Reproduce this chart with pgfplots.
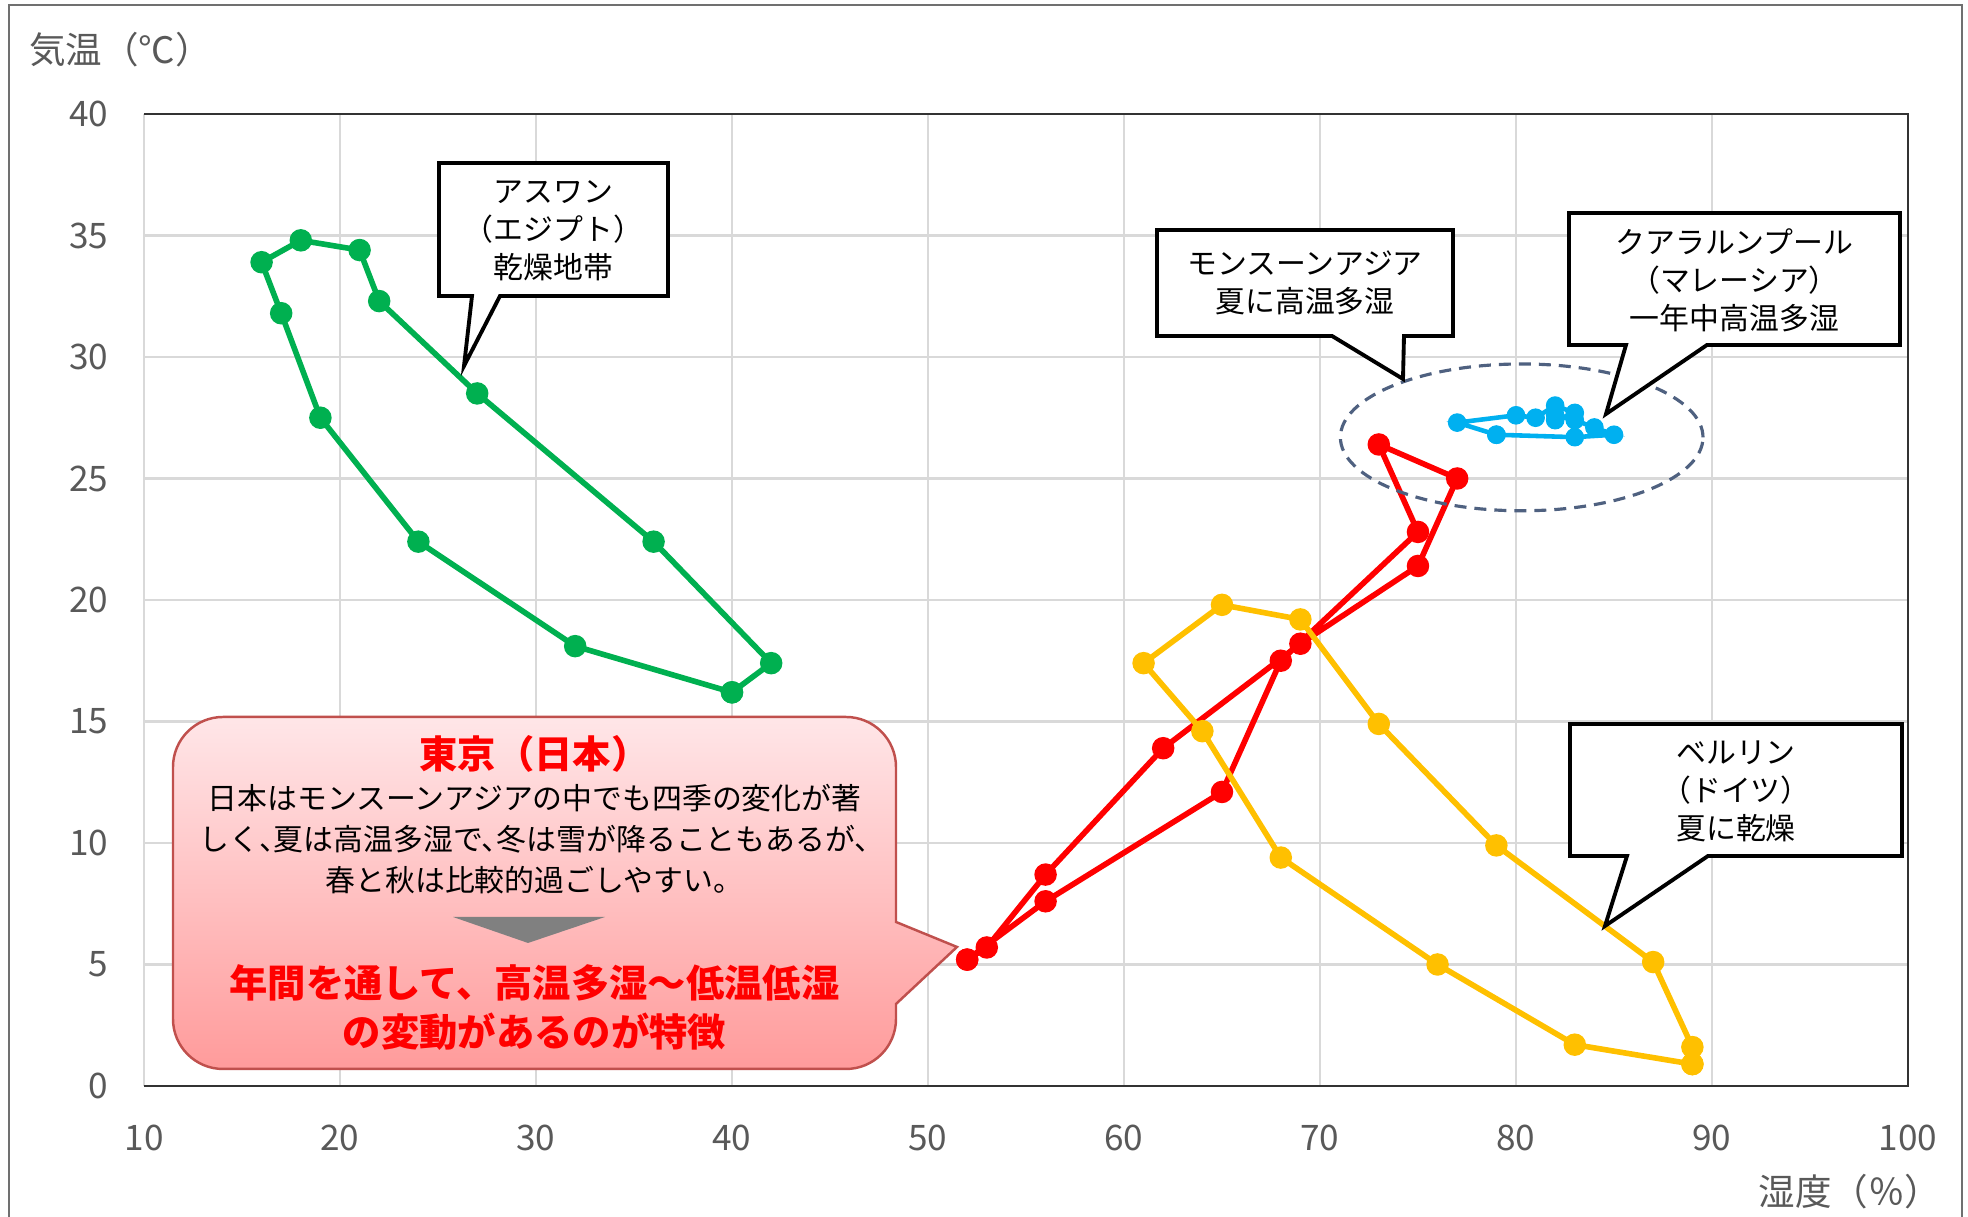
\documentclass[border=0pt]{standalone}
\usepackage{fontspec}
\setmainfont{Noto Sans CJK JP}
\newfontfamily\jphalt{Noto Sans CJK JP}[RawFeature=+halt]
\usepackage{pgfplots}
\pgfplotsset{compat=1.18}
\definecolor{cgreen}{HTML}{00B050}
\definecolor{cred}{HTML}{FF0000}
\definecolor{cyellow}{HTML}{FFC000}
\definecolor{cblue}{HTML}{00B0F0}
\definecolor{tickc}{HTML}{595959}
\definecolor{gridc}{HTML}{D9D9D9}
\definecolor{ellc}{HTML}{4F6180}
\definecolor{tkborder}{HTML}{C0504D}
\definecolor{tktop}{HTML}{FFE6E8}
\definecolor{tkbot}{HTML}{FF9B9B}
\definecolor{framec}{HTML}{707070}
\begin{document}
\begin{tikzpicture}
\begin{axis}[
  at={(0,0)}, anchor=south west,
  scale only axis, width=176.4mm, height=97.2mm,
  xmin=10, xmax=100, ymin=0, ymax=40,
  xtick={10,20,...,100}, ytick={0,5,...,40},
  grid=major, major grid style={draw=gridc, line width=0.6pt},
  major tick length=0pt,
  axis line style={draw=none},
  /pgf/number format/assume math mode=true,
  tick label style={font=\fontsize{10pt}{11pt}\selectfont, text=tickc},
  yticklabel style={anchor=east, inner sep=0pt, xshift=-3.5mm},
  xticklabel style={anchor=north, inner sep=0pt, yshift=-3.8mm},
  clip=false,
]
\draw[color=black!80, line width=0.6pt] (rel axis cs:0,1) -- (rel axis cs:1,1) -- (rel axis cs:1,0) -- (rel axis cs:0,0);
% Aswan
\addplot[color=cgreen, line width=1.6pt, mark=*, mark size=3.0pt, mark options={fill=cgreen, line width=0.4pt}] coordinates {
(40,16.2) (32,18.1) (24,22.4) (19,27.5) (17,31.8) (16,33.9) (18,34.8) (21,34.4) (22,32.3) (27,28.5) (36,22.4) (42,17.4) (40,16.2)};
% Tokyo
\addplot[color=cred, line width=1.6pt, mark=*, mark size=3.0pt, mark options={fill=cred, line width=0.4pt}] coordinates {
(52,5.2) (53,5.7) (56,8.7) (62,13.9) (69,18.2) (75,21.4) (77,25.0) (73,26.4) (75,22.8) (68,17.5) (65,12.1) (56,7.6) (52,5.2)};
% Berlin
\addplot[color=cyellow, line width=1.6pt, mark=*, mark size=3.0pt, mark options={fill=cyellow, line width=0.4pt}] coordinates {
(89,0.9) (83,1.7) (76,5.0) (68,9.4) (64,14.6) (61,17.4) (65,19.8) (69,19.2) (73,14.9) (79,9.9) (87,5.1) (89,1.6) (89,0.9)};
% Kuala Lumpur
\addplot[color=cblue, line width=1.3pt, mark=*, mark size=2.5pt, mark options={fill=cblue, line width=0.3pt}] coordinates {
(79,26.8) (77,27.3) (80,27.6) (81,27.5) (82,28.0) (83,27.7) (82,27.4) (82,27.6) (83,27.4) (84,27.1) (85,26.8) (83,26.7) (79,26.8)};
\end{axis}
\begin{scope}[x=1mm, y=1mm]
\path[use as bounding box] (-14.4,-13.1) rectangle (182.4,108.6);
\draw[color=framec, line width=0.6pt] (-13.5,-13.5) -- (-13.5,108.1) -- (181.8,108.1) -- (181.8,-13.5);
% axis titles
\node[anchor=west, inner sep=0pt, text=tickc, font=\fontsize{10.4pt}{12pt}\selectfont] at (-11.55,103.6) {気温（℃）};
\node[anchor=west, inner sep=0pt, text=tickc, font=\fontsize{10.4pt}{12pt}\selectfont] at (161.4,-10.6) {湿度（％）};
% ellipse
\draw[color=ellc, line width=0.9pt, dash pattern=on 1.2mm off 0.8mm] (137.77,64.86) ellipse [x radius=18.13, y radius=7.34];
% callouts
\draw[line width=1.1pt, fill=white, line join=miter] (29.5,79.0) -- (29.5,92.3) -- (52.4,92.3) -- (52.4,79.0) -- (35.6,79.0) -- (32.0,72.0) -- (32.8,79.0) -- cycle;
\node[align=center, font=\fontsize{8.5pt}{10.8pt}\selectfont] at (40.95,85.5) {アスワン\\（エジプト）\\乾燥地帯};
\draw[line width=1.1pt, fill=white, line join=miter] (101.3,75.0) -- (101.3,85.6) -- (130.9,85.6) -- (130.9,75.0) -- (126.0,75.0) -- (125.9,70.7) -- (118.8,75.0) -- cycle;
\node[align=center, font=\fontsize{8.5pt}{10.8pt}\selectfont] at (116.1,80.3) {モンスーンアジア\\夏に高温多湿};
\draw[line width=1.1pt, fill=white, line join=miter] (142.5,74.1) -- (142.5,87.3) -- (175.6,87.3) -- (175.6,74.1) -- (156.3,74.1) -- (146.2,67.2) -- (148.2,74.1) -- cycle;
\node[align=center, font=\fontsize{8.5pt}{10.8pt}\selectfont] at (159.05,80.6) {クアラルンプール\\（マレーシア）\\一年中高温多湿};
\draw[line width=1.1pt, fill=white, line join=miter] (142.6,23.0) -- (142.6,36.2) -- (175.8,36.2) -- (175.8,23.0) -- (156.4,23.0) -- (146.1,16.0) -- (148.3,23.0) -- cycle;
\node[align=center, font=\fontsize{8.5pt}{10.8pt}\selectfont] at (159.2,29.5) {ベルリン\\（ドイツ）\\夏に乾燥};
% Tokyo box
\path[draw=tkborder, line width=0.7pt, top color=tktop, bottom color=tkbot]
 (75.2,16.4) -- (81.3,13.9) -- (75.2,8.2) -- (75.2,6.7) arc[start angle=0, end angle=-90, radius=5]
 -- (7.9,1.7) arc[start angle=270, end angle=180, radius=5]
 -- (2.9,31.9) arc[start angle=180, end angle=90, radius=5]
 -- (70.2,36.9) arc[start angle=90, end angle=0, radius=5] -- cycle;
\node[text=cred, font=\fontsize{10.9pt}{12pt}\selectfont\bfseries] at (39.05,33.2) {東京（日本）};
\node[align=center, font=\fontsize{8.5pt}{11.7pt}\selectfont] at (39.05,24.65) {日本はモンスーンアジアの中でも四季の変化が著\\{\jphalt しく、夏は高温多湿で、冬は雪が降ることもあるが、}\\春と秋は比較的過ごしやすい。};
\fill[color=black!50] (30.9,16.9) -- (46.1,16.9) -- (38.4,14.3) -- cycle;
\node[align=center, text=cred, font=\fontsize{10.9pt}{13.9pt}\selectfont\bfseries] at (39.05,7.85) {年間を通して、高温多湿～低温低湿\\の変動があるのが特徴};
\end{scope}
\end{tikzpicture}
\end{document}
